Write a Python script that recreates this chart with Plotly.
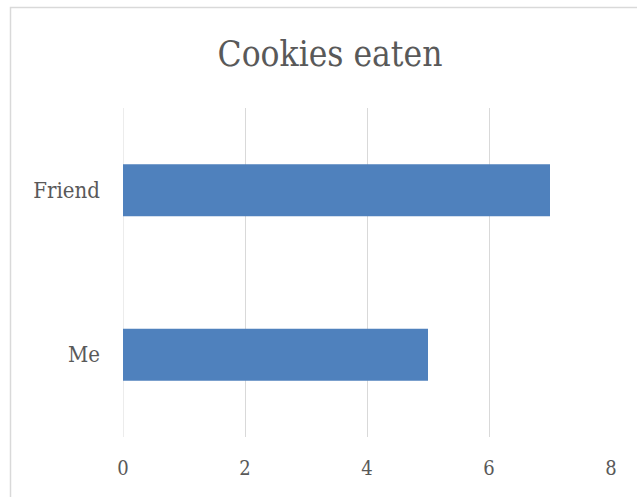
import plotly.graph_objects as go

categories = ["Me", "Friend"]
values = [5, 7]
x_ticks = [0, 2, 4, 6, 8]
title_text = "Cookies eaten"

W, H = 637, 497
L, R, T, B = 123, 26, 108, 60
pw, ph = W - L - R, H - T - B

def px_to_paper_x(px):
    return (px - L) / pw

def px_to_paper_y(py):
    return (H - B - py) / ph

font_family = "DejaVu Serif Condensed, Liberation Serif, serif"
txt_color = "#595959"
grid_color = "#d9d9d9"

fig = go.Figure(
    go.Bar(
        x=values,
        y=categories,
        orientation="h",
        marker=dict(color="#4f81bd", line=dict(width=0)),
        width=0.315,
        hoverinfo="x+y",
    )
)

fig.update_layout(
    width=W,
    height=H,
    margin=dict(l=L, r=R, t=T, b=B),
    paper_bgcolor="white",
    plot_bgcolor="white",
    showlegend=False,
    title=dict(
        text=title_text,
        x=330 / W,
        xanchor="center",
        y=1 - 54 / H,
        yanchor="middle",
        font=dict(family=font_family, size=35, color=txt_color),
    ),
    xaxis=dict(
        range=[0, 8],
        tickvals=x_ticks,
        showgrid=True,
        gridcolor=grid_color,
        gridwidth=1,
        zeroline=False,
        showline=False,
        ticks="",
        ticklabelstandoff=17,
        tickfont=dict(family=font_family, size=20, color=txt_color),
    ),
    yaxis=dict(
        showgrid=False,
        zeroline=False,
        showline=False,
        ticks="",
        ticklabelstandoff=22,
        tickfont=dict(family=font_family, size=22, color=txt_color),
    ),
    shapes=[
        dict(
            type="rect",
            xref="paper",
            yref="paper",
            x0=px_to_paper_x(10.5),
            x1=px_to_paper_x(700),
            y0=px_to_paper_y(560),
            y1=px_to_paper_y(7.5),
            line=dict(color=grid_color, width=1.5),
            fillcolor="rgba(0,0,0,0)",
            layer="below",
        ),
        dict(
            type="line",
            xref="x",
            yref="paper",
            x0=0,
            x1=0,
            y0=0,
            y1=1,
            line=dict(color=grid_color, width=1),
            layer="below",
        ),
    ],
)

fig.write_html("out.html")
